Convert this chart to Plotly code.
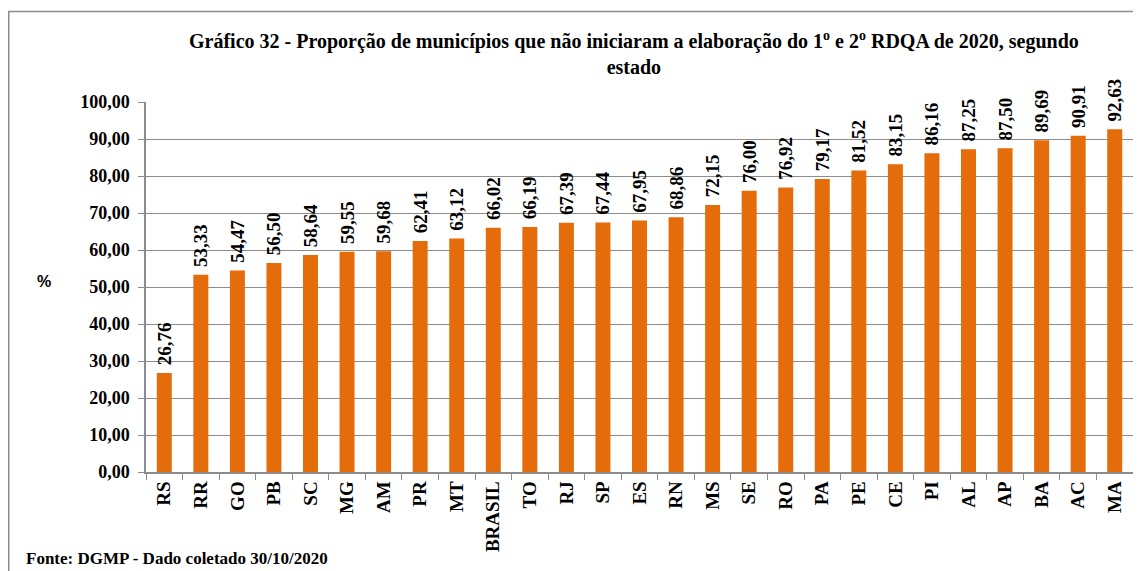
import plotly.graph_objects as go

estados = ["RS", "RR", "GO", "PB", "SC", "MG", "AM", "PR", "MT", "BRASIL", "TO", "RJ", "SP", "ES",
           "RN", "MS", "SE", "RO", "PA", "PE", "CE", "PI", "AL", "AP", "BA", "AC", "MA"]
valores = [26.76, 53.33, 54.47, 56.50, 58.64, 59.55, 59.68, 62.41, 63.12, 66.02, 66.19, 67.39, 67.44,
           67.95, 68.86, 72.15, 76.00, 76.92, 79.17, 81.52, 83.15, 86.16, 87.25, 87.50, 89.69, 90.91, 92.63]
y_ticks = [0, 10, 20, 30, 40, 50, 60, 70, 80, 90, 100]

# page offset from browser default body margin
OFF = 8
SW, SH = 1141, 571              # screen size
W, H = SW - OFF, SH - OFF       # figure size
# plot area in screen pixels
PX0, PX1, PY0, PY1 = 146, 1133, 102, 472
L, R = PX0 - OFF, SW - PX1
T, B = PY0 - OFF, SH - PY1
pw, ph = PX1 - PX0, PY1 - PY0

def px(x):
    return (x - PX0) / pw

def py(y):
    return (PY1 - y) / ph

serif = "Liberation Serif"
grid = "#8c8c8c"

fig = go.Figure(go.Bar(
    x=estados, y=valores,
    marker=dict(color="#E46C0A", line=dict(width=0)),
    texttemplate="\u00a0%{y:.2f}", textposition="outside", textangle=-90,
    constraintext="none", cliponaxis=False,
    textfont=dict(family=serif, size=19, color="black", weight="bold"),
))

fig.update_layout(
    width=W, height=H, margin=dict(l=L, r=R, t=T, b=B, autoexpand=False),
    paper_bgcolor="white", plot_bgcolor="white",
    separators=",.", bargap=0.59, showlegend=False,
    xaxis=dict(tickangle=-90, ticks="outside", tickson="boundaries", ticklen=6,
               tickcolor=grid, showline=True, linecolor=grid, linewidth=1.5,
               tickfont=dict(family=serif, size=19, color="black", weight="bold"),
               showgrid=False, automargin=False),
    yaxis=dict(range=[0, 100], tickvals=y_ticks, tickformat=".2f", ticks="outside",
               ticklen=6, tickcolor=grid, showline=True, linecolor=grid, linewidth=1.5,
               gridcolor=grid, gridwidth=1, zeroline=False, automargin=False,
               ticklabelstandoff=5,
               tickfont=dict(family=serif, size=18, color="black", weight="bold")),
    shapes=[dict(type="rect", xref="paper", yref="paper",
                 x0=px(8.75), x1=px(SW + 20), y0=py(SH + 50), y1=py(11.5),
                 line=dict(color=grid, width=1.5), fillcolor="rgba(0,0,0,0)", layer="below")],
    annotations=[
        dict(text="Gráfico 32 - Proporção de municípios que não iniciaram a elaboração do 1<sup>o</sup> e 2<sup>o</sup> RDQA de 2020, segundo<br>estado",
             xref="paper", yref="paper", x=px(634), y=py(26), xanchor="center", yanchor="top",
             showarrow=False, align="center",
             font=dict(family=serif, size=20, color="black", weight="bold")),
        dict(text="%", xref="paper", yref="paper", x=px(44), y=py(281),
             xanchor="center", yanchor="middle", showarrow=False,
             font=dict(family="Liberation Sans", size=16, color="black", weight="bold")),
        dict(text="Fonte: DGMP - Dado coletado 30/10/2020", xref="paper", yref="paper",
             x=px(24), y=py(570), xanchor="left", yanchor="bottom", showarrow=False,
             font=dict(family=serif, size=17, color="black", weight="bold")),
    ],
)

fig.write_html("out.html")
